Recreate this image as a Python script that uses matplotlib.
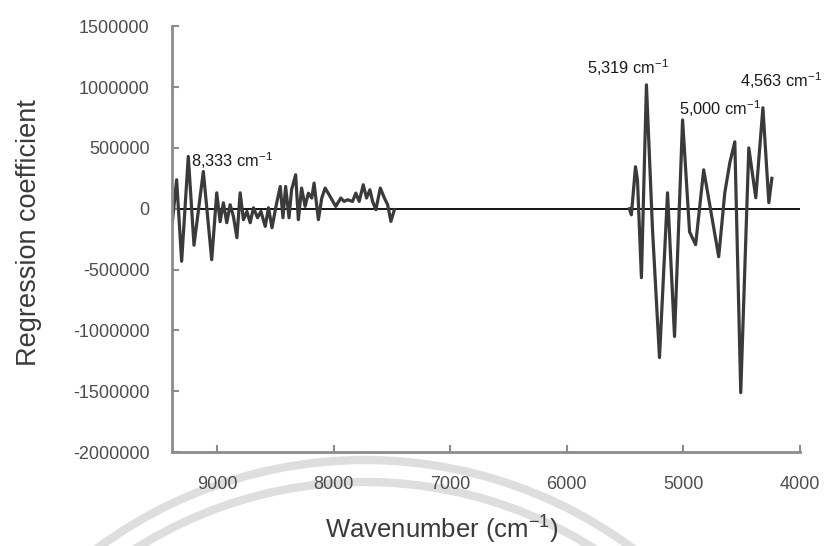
import matplotlib
matplotlib.use("Agg")
import matplotlib.pyplot as plt
from matplotlib.patches import Arc

plt.rcParams['font.family'] = ['Liberation Sans', 'DejaVu Sans']
plt.rcParams['mathtext.fontset'] = 'custom'
plt.rcParams['mathtext.rm'] = 'Liberation Sans'
plt.rcParams['mathtext.it'] = 'Liberation Sans'
plt.rcParams['axes.unicode_minus'] = False

# ---- data ----
seg1_wavenumber = [9383, 9347, 9304, 9247, 9198, 9118, 9046, 9003, 8974, 8946,
                   8917, 8888, 8860, 8830, 8802, 8774, 8744, 8716, 8688, 8653,
                   8624, 8587, 8559, 8529, 8492, 8458, 8435, 8412, 8383, 8361,
                   8326, 8303, 8275, 8245, 8217, 8188, 8168, 8131, 8102, 8073,
                   8039, 7982, 7939, 7910, 7881, 7838, 7810, 7781, 7746, 7718,
                   7689, 7666, 7638, 7600, 7565, 7537, 7509, 7479]
seg1_coef = [-100000, 238000, -432000, 430000, -300000, 306000, -419000, 131000, -107000, 49000,
             -115000, 33000, -63000, -238000, 131000, -90000, -22000, -115000, 8000, -74000,
             -22000, -145000, 8000, -156000, 33000, 183000, -74000, 183000, -74000, 156000,
             279000, -90000, 170000, 19000, 128000, 88000, 211000, -90000, 88000, 170000,
             115000, 19000, 88000, 60000, 74000, 60000, 128000, 60000, 197000, 88000,
             156000, 60000, -8000, 170000, 88000, 33000, -104000, -8000]

seg2_wavenumber = [5463, 5446, 5411, 5394, 5360, 5317, 5265, 5205, 5136, 5076,
                   5007, 4947, 4895, 4826, 4697, 4645, 4602, 4559, 4508, 4439,
                   4379, 4318, 4267, 4241]
seg2_coef = [0, -50000, 345000, 238000, -566000, 1018000, -170000, -1223000, 131000, -1050000,
             730000, -190000, -295000, 320000, -394000, 130000, 377000, 550000, -1511000, 500000,
             90000, 830000, 50000, 250000]

x_ticks = [9000, 8000, 7000, 6000, 5000, 4000]
y_ticks = [-2000000, -1500000, -1000000, -500000, 0, 500000, 1000000, 1500000]
y_tick_labels = ['-2000000', '-1500000', '-1000000', '-500000', '0',
                 '500000', '1000000', '1500000']

annot_text = ['8,333', '5,319', '5,000', '4,563']
annot_x = [9224, 5824, 5041, 4516]
annot_y = [345000, 1108000, 772000, 1002000]

# ---- figure ----
fig = plt.figure(figsize=(8.36, 5.46), dpi=100)
ax = fig.add_axes([0.2057, 0.172, 0.7512, 0.780])

ax.axhline(0, color='black', lw=1.3, zorder=1)
ax.plot(seg1_wavenumber, seg1_coef, color='#3a3a3a', lw=2.3, zorder=2,
        solid_joinstyle='round')
ax.plot(seg2_wavenumber, seg2_coef, color='#3a3a3a', lw=2.3, zorder=2,
        solid_joinstyle='round')

ax.set_xlim(9387, 4000)
ax.set_ylim(-2000000, 1500000)
ax.set_xticks(x_ticks)
ax.set_xticklabels([str(t) for t in x_ticks])
ax.set_yticks(y_ticks)
ax.set_yticklabels(y_tick_labels)

for s in ['top', 'right']:
    ax.spines[s].set_visible(False)
for s in ['left', 'bottom']:
    ax.spines[s].set_color('#8c8c8c')
    ax.spines[s].set_linewidth(2.0)

ax.tick_params(axis='both', direction='in', length=5, width=1.5,
               color='#8c8c8c', labelsize=13, labelcolor='#4d4d4d')
ax.tick_params(axis='y', pad=16)
ax.tick_params(axis='x', pad=17)

ax.set_xlabel('Wavenumber (cm$^{-1}$)', fontsize=18.5, color='#3a3a3a')
ax.set_ylabel('Regression coefficient', fontsize=19.5, color='#3a3a3a')
ax.xaxis.set_label_coords(0.43, -0.145)
ax.yaxis.set_label_coords(-0.207, 0.516)

for t, xv, yv in zip(annot_text, annot_x, annot_y):
    ax.text(xv, yv, t + ' cm$^{-1}$', fontsize=11.8, color='#1a1a1a',
            ha='left', va='baseline', clip_on=False)

# faint watermark rings at the bottom (figure pixel coordinates)
for r in (450, 428):
    arc = Arc((365, 546 - 910), 2 * r, 2 * r, theta1=0, theta2=180,
              transform=None, color='#dedede', lw=6, zorder=0)
    fig.add_artist(arc)

fig.savefig('out.png', dpi=100)
